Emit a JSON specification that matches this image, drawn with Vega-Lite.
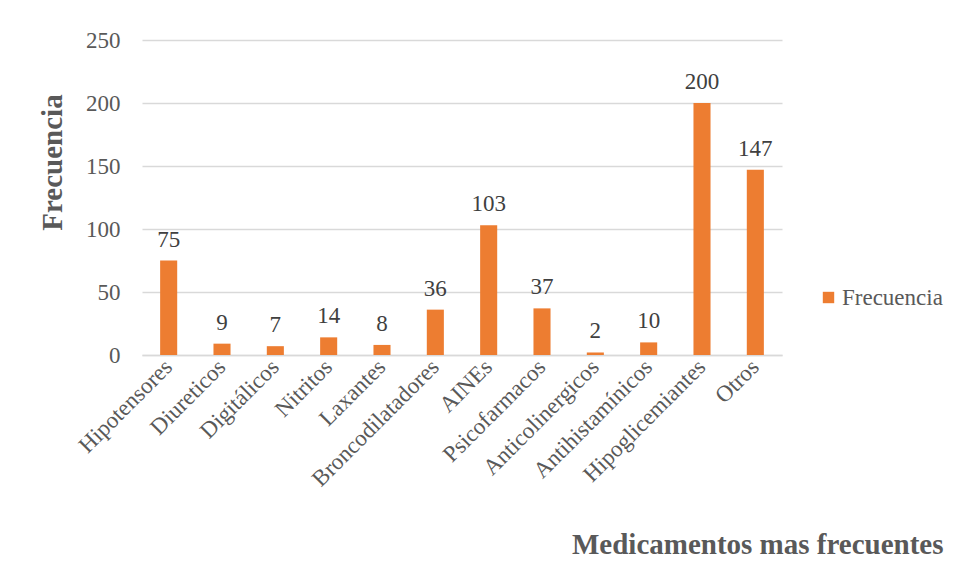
{
  "$schema": "https://vega.github.io/schema/vega-lite/v6.json",
  "width": 640,
  "height": 315,
  "autosize": {"type": "none"},
  "padding": {"left": 142, "top": 40, "right": 177, "bottom": 228},
  "background": "white",
  "config": {
    "font": "'Liberation Serif', 'Times New Roman', serif",
    "view": {"stroke": null}
  },
  "data": {
    "values": [
      {"med": "Hipotensores", "freq": 75},
      {"med": "Diureticos", "freq": 9},
      {"med": "Digitálicos", "freq": 7},
      {"med": "Nitritos", "freq": 14},
      {"med": "Laxantes", "freq": 8},
      {"med": "Broncodilatadores", "freq": 36},
      {"med": "AINEs", "freq": 103},
      {"med": "Psicofarmacos", "freq": 37},
      {"med": "Anticolinergicos", "freq": 2},
      {"med": "Antihistamínicos", "freq": 10},
      {"med": "Hipoglicemiantes", "freq": 200},
      {"med": "Otros", "freq": 147}
    ]
  },
  "encoding": {
    "x": {
      "field": "med",
      "type": "nominal",
      "sort": null,
      "scale": {"paddingInner": 0.68, "paddingOuter": 0.34},
      "axis": {
        "title": "Medicamentos mas frecuentes",
        "titleFont": "'Liberation Serif', 'Times New Roman', serif",
        "titleFontSize": 29,
        "titleFontWeight": "bold",
        "titleColor": "#595959",
        "titleAnchor": "end",
        "titleAlign": "right",
        "titleBaseline": "alphabetic",
        "titleX": 801,
        "titleY": 198,
        "labelAngle": -45,
        "labelAlign": "right",
        "labelBaseline": "middle",
        "labelFont": "'Liberation Serif', 'Times New Roman', serif",
        "labelFontSize": 23,
        "labelColor": "#595959",
        "labelPadding": 8,
        "ticks": false,
        "domainColor": "#d9d9d9",
        "domainWidth": 1.5,
        "labelOverlap": false
      }
    },
    "y": {
      "field": "freq",
      "type": "quantitative",
      "scale": {"domain": [0, 250]},
      "axis": {
        "title": "Frecuencia",
        "titleFont": "'Liberation Serif', 'Times New Roman', serif",
        "titleFontSize": 29,
        "titleFontWeight": "bold",
        "titleColor": "#595959",
        "titleAngle": 270,
        "titleAlign": "center",
        "titleBaseline": "middle",
        "titleX": -90,
        "titleY": 122,
        "values": [0, 50, 100, 150, 200, 250],
        "labelFont": "'Liberation Serif', 'Times New Roman', serif",
        "labelFontSize": 23,
        "labelColor": "#595959",
        "labelPadding": 22,
        "ticks": false,
        "domain": false,
        "gridColor": "#d9d9d9",
        "gridWidth": 1.3
      }
    }
  },
  "layer": [
    {
      "mark": {"type": "bar"},
      "encoding": {
        "color": {
          "datum": "Frecuencia",
          "type": "nominal",
          "scale": {"range": ["#ED7D31"]},
          "legend": {
            "title": null,
            "orient": "none",
            "legendX": 675,
            "legendY": 246,
            "symbolType": "square",
            "symbolSize": 130,
            "symbolStrokeWidth": 0,
            "labelFontSize": 23,
            "labelColor": "#595959",
            "labelFont": "'Liberation Serif', 'Times New Roman', serif",
            "labelOffset": 2
          }
        }
      }
    },
    {
      "mark": {"type": "text", "dy": -21, "fontSize": 23, "color": "#404040", "font": "'Liberation Serif', 'Times New Roman', serif"},
      "encoding": {"text": {"field": "freq", "type": "quantitative"}}
    }
  ]
}
